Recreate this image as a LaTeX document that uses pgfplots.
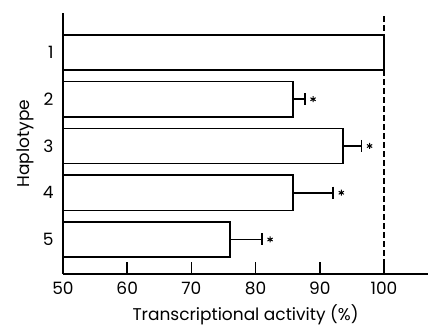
\documentclass[border=0pt]{standalone}
\usepackage{fontspec}
\setmainfont{Poppins}
\usepackage{pgfplots}
\pgfplotsset{compat=1.18}
\begin{document}
\begin{tikzpicture}
\begin{axis}[
  at={(0pt,0pt)}, anchor=south west,
  scale only axis, width=365pt, height=261pt,
  xmin=50, xmax=106.85, ymin=0.262, ymax=5.845,
  axis lines=left,
  axis line style={line width=1.5pt, -},
  xtick={50,60,70,80,90,100},
  ytick={1,2,3,4,5},
  yticklabels={5,4,3,2,1},
  tick align=inside,
  major tick length=12pt,
  x tick style={line width=1.5pt, black},
  y tick style={draw=none},
  /pgf/number format/assume math mode=true,
  tick label style={font=\fontsize{17}{19}\selectfont},
  xticklabel style={yshift=-4pt},
  yticklabel style={xshift=-6pt},
  xlabel={Transcriptional activity (\%)},
  ylabel={Haplotype},
  label style={font=\fontsize{17}{19}\selectfont},
  xlabel style={yshift=-3pt},
  ylabel style={yshift=2pt},
  clip=false,
]
\addplot[xbar, bar width=0.75, fill=white, draw=black, line width=1.5pt]
  coordinates {(100,5)};
\addplot[xbar, bar width=0.75, fill=white, draw=black, line width=1.5pt,
  error bars/.cd, x dir=plus, x explicit,
  error bar style={line width=1.8pt, black},
  error mark=|,
  error mark options={line width=1.8pt, mark size=6pt, black}]
  coordinates {
    (85.8,4) +- (1.9,0)
    (93.6,3) +- (2.9,0)
    (85.8,2) +- (6.3,0)
    (76.0,1) +- (5.0,0)
  };
\addplot[only marks, mark=asterisk, mark size=3pt, line width=1pt]
  coordinates {(88.95,4) (97.75,3) (93.35,2) (82.25,1)};
\addplot[line width=1.5pt, dash pattern=on 6pt off 3pt]
  coordinates {(100,0.262) (100,5.845)};
\end{axis}
\pgfresetboundingbox
\useasboundingbox (-63pt,-54pt) rectangle (365pt,274pt);
\end{tikzpicture}
\end{document}
